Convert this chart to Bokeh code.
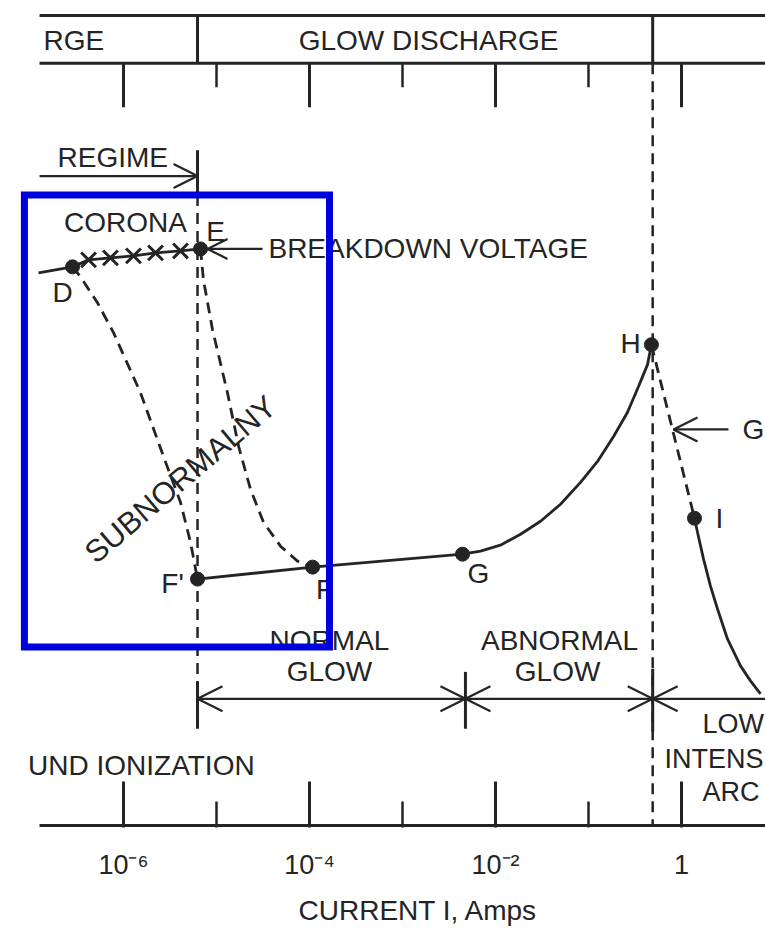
from bokeh.plotting import figure
from bokeh.models import Range1d, FixedTicker, Arrow, OpenHead, Title
from bokeh.core.properties import value
from bokeh.embed import file_html
from bokeh.resources import INLINE

FONT = "Liberation Sans"
INK = "#242424"
BLUE = "#0000dd"
FS = "28px"

# ---------------- data (current in A, voltage in arbitrary units) ----------------
major_ticks = [1e-6, 1e-4, 1e-2, 1.0]
minor_ticks = [1e-5, 1e-3, 1e-1]
tick_labels = ["10\u207b\u2076", "10\u207b\u2074", "10\u207b\u00b2", "1"]
x_title = "CURRENT I, Amps"

I_left, I_right = 1.25e-7, 10.0      # extent of the drawn frame lines
I_corona_glow = 6.25e-6              # corona / glow boundary
I_normal_abn = 4.75e-3               # normal / abnormal glow boundary
I_glow_arc = 0.49                    # glow / arc boundary

V_band_top, V_band_bottom = 812, 764  # "GLOW DISCHARGE" band
V_major_tick_end, V_minor_tick_end = 720, 740
V_regime = 651
V_dim = 127

# corona branch D - E (solid, with x marks)
corona_I = [1.22e-7, 2.83e-7, 4.21e-7, 7.24e-7, 1.28e-6, 2.21e-6, 4.10e-6, 6.73e-6]
corona_V = [554, 560, 567, 569, 571, 574, 576, 578]
cross_I = [4.21e-7, 7.24e-7, 1.28e-6, 2.21e-6, 4.10e-6]
cross_V = [567, 569, 571, 574, 576]

# subnormal dashed branches
dashD_I = [2.83e-7, 3.45e-7, 5.25e-7, 7.81e-7, 1.52e-6, 2.69e-6, 4.10e-6, 5.25e-6, 6.25e-6]
dashD_V = [560, 550, 524, 494, 434, 370, 324, 284, 247]
dashE_I = [6.73e-6, 7.24e-6, 9.06e-6, 1.31e-5, 1.73e-5, 2.32e-5, 3.20e-5, 4.88e-5, 7.43e-5, 1.08e-4]
dashE_V = [578, 547, 497, 434, 380, 337, 304, 280, 265, 259]

# glow branch F' - F - G - H (solid)
glow_I = [6.25e-6, 1.08e-4, 4.42e-3, 6.90e-3, 1.13e-2, 1.86e-2, 3.05e-2, 5.00e-2,
          8.20e-2, 0.125, 0.186, 0.262, 0.345, 0.431, 0.475]
glow_V = [247, 259, 272, 275, 281, 292, 305, 322, 344, 365, 390, 414, 440, 462, 482]

# glow-to-arc transition H - I (dashed)
trans_I = [0.475, 1.38]
trans_V = [482, 308]

# arc branch from I (solid)
arc_I = [1.38, 1.486, 1.726, 2.05, 2.44, 3.12, 4.31, 5.52, 7.07]
arc_V = [308, 294, 267, 240, 217, 187, 160, 145, 132]

# labelled points D, E, F', F, G, H, I
pt_I = [2.83e-7, 6.73e-6, 6.25e-6, 1.08e-4, 4.42e-3, 0.475, 1.38]
pt_V = [560, 578, 247, 259, 272, 482, 308]

# texts
c_text = ["GLOW DISCHARGE", "CORONA", "E", "D", "H", "I", "G", "F'", "F",
          "NORMAL", "GLOW", "ABNORMAL", "GLOW"]
c_I = [1.905e-3, 1.05e-6, 9.75e-6, 2.21e-7, 0.283, 2.56, 6.56e-3, 3.37e-6, 1.45e-4,
       1.64e-4, 1.64e-4, 4.88e-2, 4.65e-2]
c_V = [787, 604, 595, 534, 483, 308, 253, 243, 237, 185, 154, 185, 154]

l_text = ["RGE", "REGIME", "BREAKDOWN VOLTAGE", "G"]
l_I = [1.38e-7, 1.95e-7, 3.62e-5, 4.53]
l_V = [787, 670, 578, 397]

edge_text = ["LOW", "INTENS", "ARC"]
edge_I = [1.68, 0.656, 1.68]
edge_V = [102, 67, 34]

r_text = ["UND IONIZATION"]
r_I = [2.57e-5]
r_V = [60]

rot_text = ["SUBNORMALNY"]
rot_I = [4.10e-6]
rot_V = [347]
rot_angle = [0.703]

# highlight box [left, right] / [top, bottom]
box_I = [8.6e-8, 1.64e-4]
box_V = [632, 179]

# ---------------- figure ----------------
p = figure(width=765, height=940, x_axis_type="log", y_axis_location=None,
           x_range=Range1d(4.757e-8, 8.003), y_range=Range1d(-2, 827),
           output_backend="svg", toolbar_location=None,
           min_border_left=0, min_border_right=0, min_border_top=0, min_border_bottom=111)
p.grid.visible = False
p.outline_line_color = None
p.background_fill_color = "white"
p.border_fill_color = "white"

ax = p.xaxis[0]
ax.ticker = FixedTicker(ticks=major_ticks, minor_ticks=minor_ticks)
ax.major_label_overrides = dict(zip(major_ticks, tick_labels))
ax.axis_line_color = None
ax.major_tick_in = 46
ax.major_tick_out = 0
ax.minor_tick_in = 26
ax.minor_tick_out = 0
ax.major_tick_line_width = 3
ax.minor_tick_line_width = 2.5
ax.major_tick_line_color = INK
ax.minor_tick_line_color = INK
ax.major_label_text_font = FONT
ax.major_label_text_font_size = "27px"
ax.major_label_text_color = INK
ax.major_label_standoff = 22

p.add_layout(Title(text=x_title, align="left", offset=298, standoff=25,
                   vertical_align="top",
                   text_font=FONT, text_font_size=FS, text_font_style="normal",
                   text_color=INK), "below")

# frame lines (solid)
sx0 = [I_left, I_left, I_left, I_corona_glow, I_glow_arc, I_corona_glow,
       I_corona_glow, I_normal_abn, I_glow_arc]
sx1 = [I_right, I_right, I_right, I_corona_glow, I_glow_arc, I_corona_glow,
       I_corona_glow, I_normal_abn, I_glow_arc]
sy0 = [V_band_top, V_band_bottom, 0, V_band_top, V_band_top, 677, 144, 154, 157]
sy1 = [V_band_top, V_band_bottom, 0, V_band_bottom, V_band_bottom, 632, 97, 97, 94]
p.segment(x0=sx0, y0=sy0, x1=sx1, y1=sy1, line_color=INK, line_width=3)

# top band ticks
p.segment(x0=major_ticks, x1=major_ticks, y0=[V_band_bottom] * len(major_ticks),
          y1=[V_major_tick_end] * len(major_ticks), line_color=INK, line_width=3)
p.segment(x0=minor_ticks, x1=minor_ticks, y0=[V_band_bottom] * len(minor_ticks),
          y1=[V_minor_tick_end] * len(minor_ticks), line_color=INK, line_width=2.5)

# dashed regime boundaries
p.segment(x0=[I_corona_glow, I_glow_arc], x1=[I_corona_glow, I_glow_arc],
          y0=[632, V_band_bottom], y1=[92, 0], line_color=INK, line_width=2.5,
          line_dash="11 7")

# curves
LW = 2.8
p.line(corona_I, corona_V, line_color=INK, line_width=LW)
p.line(dashD_I, dashD_V, line_color=INK, line_width=LW, line_dash="11 7")
p.line(dashE_I, dashE_V, line_color=INK, line_width=LW, line_dash="11 7")
p.line(glow_I, glow_V, line_color=INK, line_width=LW)
p.line(trans_I, trans_V, line_color=INK, line_width=LW, line_dash="11 7")
p.line(arc_I, arc_V, line_color=INK, line_width=LW)

p.scatter(cross_I, cross_V, marker="x", size=21, line_color=INK, line_width=3)
p.scatter(pt_I, pt_V, marker="circle", size=14, fill_color=INK, line_color=INK)

# arrows
def head(s):
    return OpenHead(size=s, line_color=INK, line_width=2.2)

arrows = [
    dict(start=None, end=head(24), x_start=I_left, y_start=V_regime, x_end=I_corona_glow, y_end=V_regime),
    dict(start=None, end=head(20), x_start=3.13e-5, y_start=578, x_end=8.0e-6, y_end=578),
    dict(start=None, end=head(24), x_start=3.2, y_start=397, x_end=0.82, y_end=397),
    dict(start=head(25), end=head(25), x_start=I_corona_glow, y_start=V_dim, x_end=I_normal_abn, y_end=V_dim),
    dict(start=head(25), end=head(25), x_start=I_normal_abn, y_start=V_dim, x_end=I_glow_arc, y_end=V_dim),
    dict(start=None, end=head(25), x_start=I_right, y_start=V_dim, x_end=I_glow_arc, y_end=V_dim),
]
for a in arrows:
    p.add_layout(Arrow(line_color=INK, line_width=2.2, **a))

# texts
common = dict(text_font=value(FONT), text_color=INK, text_baseline="middle")
p.text(x=c_I, y=c_V, text=c_text, text_align="center", text_font_size=value(FS), **common)
p.text(x=l_I, y=l_V, text=l_text, text_align="left", text_font_size=value(FS), **common)
p.text(x=edge_I, y=edge_V, text=edge_text, text_align="left", text_font_size=value("27px"), **common)
p.text(x=r_I, y=r_V, text=r_text, text_align="right", text_font_size=value(FS), **common)
p.text(x=rot_I, y=rot_V, text=rot_text, angle=rot_angle, text_align="center",
       text_font_size=value("31px"), **common)

# highlight box
p.quad(left=[box_I[0]], right=[box_I[1]], top=[box_V[0]], bottom=[box_V[1]],
       fill_color=None, line_color=BLUE, line_width=7, line_join="miter")

open("out.html", "w").write(file_html(p, INLINE))
